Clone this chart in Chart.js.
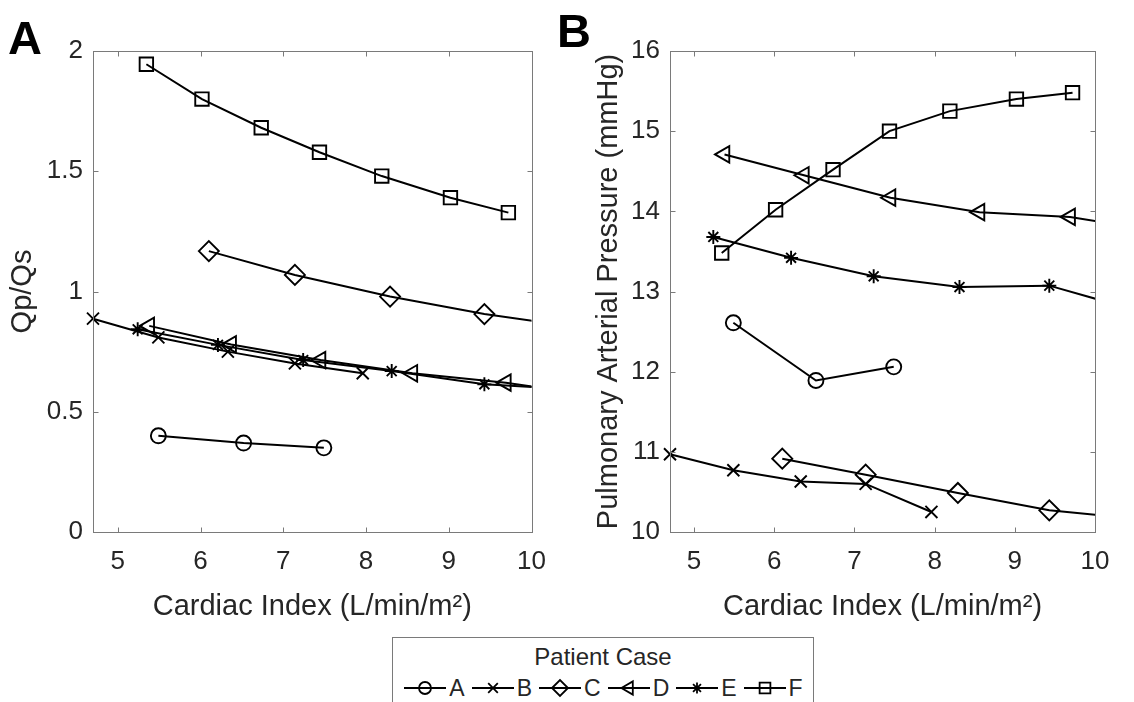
<!DOCTYPE html>
<html>
<head>
<meta charset="utf-8">
<script src="https://cdn.jsdelivr.net/npm/chart.js@4.4.0/dist/chart.umd.min.js"></script>
<style>
  html, body { margin: 0; padding: 0; background: #fff; width: 1134px; height: 702px; overflow: hidden; }
  .wrap { position: absolute; top: 0; height: 640px; }
  #wrapA { left: 0; width: 560px; }
  #wrapB { left: 560px; width: 574px; }
  .tag { position: absolute; font: bold 47px 'Liberation Sans', Arial, sans-serif; line-height: 1; color: #000; }
  #legend {
    position: absolute; left: 392px; top: 637px; width: 420px; height: 100px;
    border: 1px solid #7a7a7a; background: #fff;
    font-family: 'Liberation Sans', Arial, sans-serif; color: #262626;
  }
  #legend .ttl { margin-top: 7px; text-align: center; font-size: 24px; line-height: 1; }
  #legRow { display: flex; justify-content: center; margin-top: 7px; font-size: 23px; line-height: 1; }
  #legRow .item { display: flex; align-items: center; margin: 0 3px; }
  #legRow canvas { margin-right: 2px; }
</style>
</head>
<body>
<div class="wrap" id="wrapA"><canvas id="chartA"></canvas></div>
<div class="wrap" id="wrapB"><canvas id="chartB"></canvas></div>
<div class="tag" style="left:8px;top:14px">A</div>
<div class="tag" style="left:557px;top:7px">B</div>
<div id="legend"><div class="ttl">Patient Case</div><div id="legRow"></div></div>

<script>
// ── DATA ────────────────────────────────────────────────────────────────────
const CASES = ['A', 'B', 'C', 'D', 'E', 'F'];

// cardiac index (L/min/m2) per case, shared by both panels
const ciA = [5.49, 6.52, 7.49];
const ciB = [4.70, 5.49, 6.33, 7.14, 7.96];
const ciC = [6.10, 7.14, 8.29, 9.43, 10.56];
const ciD = [5.38, 6.37, 7.45, 8.56, 9.69, 10.8];
const ciE = [5.24, 6.21, 7.24, 8.31, 9.43, 10.55];
const ciF = [5.345, 6.017, 6.733, 7.437, 8.19, 9.02, 9.72];

// panel A: Qp/Qs
const qpA = [0.40, 0.37, 0.35];
const qpB = [0.887, 0.809, 0.750, 0.701, 0.660];
const qpC = [1.168, 1.069, 0.979, 0.906, 0.852];
const qpD = [0.857, 0.780, 0.715, 0.660, 0.621, 0.566];
const qpE = [0.843, 0.778, 0.715, 0.669, 0.614, 0.592];
const qpF = [1.945, 1.800, 1.681, 1.579, 1.480, 1.390, 1.328];

// panel B: pulmonary arterial pressure (mmHg)
const papA = [12.61, 11.89, 12.06];
const papB = [10.97, 10.77, 10.63, 10.60, 10.25];
const papC = [10.915, 10.715, 10.487, 10.270, 10.163];
const papD = [14.71, 14.45, 14.17, 13.99, 13.93, 13.75];
const papE = [13.68, 13.42, 13.19, 13.056, 13.073, 12.755];
const papF = [13.48, 14.02, 14.52, 15.00, 15.25, 15.40, 15.48];

const xTicks  = [5, 6, 7, 8, 9, 10];
const yTicksA = [0, 0.5, 1, 1.5, 2];
const yTicksB = [10, 11, 12, 13, 14, 15, 16];

// ── STYLE ───────────────────────────────────────────────────────────────────
const FONT = "'Liberation Sans', Arial, sans-serif";
const INK  = '#262626';
const MARKERS = {
  A: { style: 'circle',   r: 7.5, rot: 0 },
  B: { style: 'crossRot', r: 8.5, rot: 0 },
  C: { style: 'rectRot',  r: 10,  rot: 0 },
  D: { style: 'triangle', r: 9.5, rot: -90 },
  E: { style: 'star',     r: 7,   rot: 0 },
  F: { style: 'rect',     r: 9.5, rot: 0 },
};

Chart.defaults.font.family = FONT;
Chart.defaults.color = INK;

const pairs = (xs, ys) => xs.map((x, i) => ({ x: x, y: ys[i] }));

function makeDatasets(series) {
  return CASES.map((c, i) => {
    const m = MARKERS[c];
    return {
      label: c,
      data: series[i],
      borderColor: '#000',
      borderWidth: 2,
      tension: 0,
      pointStyle: m.style,
      pointRadius: m.r,
      pointRotation: m.rot,
      pointBorderColor: '#000',
      pointBackgroundColor: 'rgba(0,0,0,0)',
      pointBorderWidth: 1.9,
      clip: { left: 14, top: 14, bottom: 14, right: 0 },
    };
  });
}

// ── axes box with inward ticks on all four sides
const boxPlugin = {
  id: 'boxPlugin',
  afterDatasetsDraw(chart) {
    const { ctx, chartArea: a, scales } = chart;
    const L = Math.round(a.left) + 0.5, R = Math.round(a.right) + 0.5;
    const T = Math.round(a.top) + 0.5,  B = Math.round(a.bottom) + 0.5;
    ctx.save();
    ctx.strokeStyle = '#7a7a7a';
    ctx.lineWidth = 1;
    ctx.strokeRect(L, T, R - L, B - T);
    ctx.beginPath();
    scales.x.ticks.forEach(t => {
      const px = Math.round(scales.x.getPixelForValue(t.value)) + 0.5;
      ctx.moveTo(px, B); ctx.lineTo(px, B - 5);
      ctx.moveTo(px, T); ctx.lineTo(px, T + 5);
    });
    scales.y.ticks.forEach(t => {
      const py = Math.round(scales.y.getPixelForValue(t.value)) + 0.5;
      ctx.moveTo(L, py); ctx.lineTo(L + 5, py);
      ctx.moveTo(R, py); ctx.lineTo(R - 5, py);
    });
    ctx.stroke();
    ctx.restore();
  },
};

function makeChart(id, series, yMin, yMax, yTicks, yTitle, lay) {
  return new Chart(document.getElementById(id), {
    type: 'line',
    data: { datasets: makeDatasets(series) },
    plugins: [boxPlugin],
    options: {
      responsive: true,
      maintainAspectRatio: false,
      animation: false,
      layout: { padding: { left: lay.padL, top: 51, right: lay.padR, bottom: 15.6 } },
      plugins: { legend: { display: false }, tooltip: { enabled: false } },
      scales: {
        x: {
          type: 'linear',
          min: 4.7,
          max: 10,
          afterBuildTicks: s => { s.ticks = xTicks.map(v => ({ value: v })); },
          afterFit: s => { s.height = 92.4; },
          grid: { display: false, drawTicks: false },
          border: { display: false },
          ticks: { font: { size: 26 }, color: INK, padding: 14, maxRotation: 0, callback: v => String(v) },
          title: { display: true, text: 'Cardiac Index (L/min/m²)', font: { size: 29 }, color: INK, padding: 0 },
        },
        y: {
          type: 'linear',
          min: yMin,
          max: yMax,
          afterBuildTicks: s => { s.ticks = yTicks.map(v => ({ value: v })); },
          afterFit: s => { s.width = lay.yW; },
          grid: { display: false, drawTicks: false },
          border: { display: false },
          ticks: { font: { size: 26 }, color: INK, padding: 10, callback: v => String(v) },
          title: { display: true, text: yTitle, font: { size: 29 }, color: INK, padding: 0 },
        },
      },
    },
  });
}

makeChart('chartA',
  [pairs(ciA, qpA), pairs(ciB, qpB), pairs(ciC, qpC), pairs(ciD, qpD), pairs(ciE, qpE), pairs(ciF, qpF)],
  0, 2, yTicksA, 'Qp/Qs', { padL: 5.6, padR: 27, yW: 87.4 });

makeChart('chartB',
  [pairs(ciA, papA), pairs(ciB, papB), pairs(ciC, papC), pairs(ciD, papD), pairs(ciE, papE), pairs(ciF, papF)],
  10, 16, yTicksB, 'Pulmonary Arterial Pressure (mmHg)', { padL: 31.6, padR: 39, yW: 78.4 });

// ── shared legend (line + marker icons)
const row = document.getElementById('legRow');
CASES.forEach(c => {
  const m = MARKERS[c];
  const item = document.createElement('span');
  item.className = 'item';
  const cv = document.createElement('canvas');
  cv.width = 44; cv.height = 24;
  const g = cv.getContext('2d');
  g.strokeStyle = '#000';
  g.fillStyle = 'rgba(0,0,0,0)';
  g.lineWidth = 1.8;
  g.beginPath(); g.moveTo(1, 12); g.lineTo(43, 12); g.stroke();
  Chart.helpers.drawPoint(g, { pointStyle: m.style, radius: m.r * 0.8, rotation: m.rot, borderWidth: 1.8 }, 22, 12);
  const lab = document.createElement('span');
  lab.textContent = c;
  item.appendChild(cv);
  item.appendChild(lab);
  row.appendChild(item);
});
</script>
</body>
</html>
